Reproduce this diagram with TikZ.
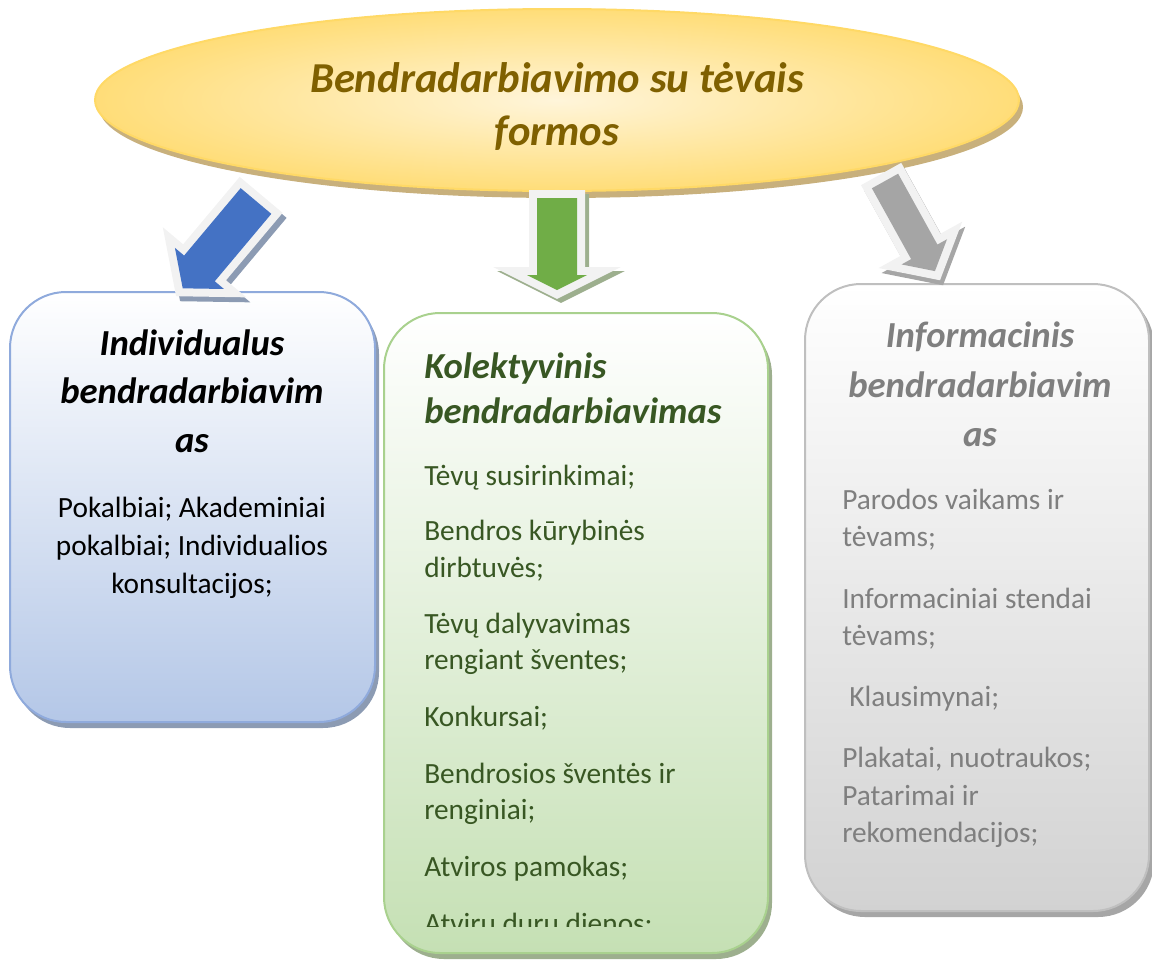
\documentclass[tikz,border=0pt]{standalone}
\usepackage{fontspec}
\setmainfont{Carlito}
\definecolor{ttl}{HTML}{7F6000}
\definecolor{ellin}{HTML}{FFF5DA}
\definecolor{ellout}{HTML}{FFDD78}
\definecolor{ellline}{HTML}{FFD966}
\definecolor{ellshad}{HTML}{C8B07C}
\definecolor{bluefill}{HTML}{B4C7E7}
\definecolor{blueline}{HTML}{8FAADC}
\definecolor{blueshad}{HTML}{8C9BB3}
\definecolor{greenfill}{HTML}{C5E0B4}
\definecolor{greenline}{HTML}{A9D18E}
\definecolor{greenshad}{HTML}{9DAF8E}
\definecolor{greentext}{HTML}{385723}
\definecolor{grayfill}{HTML}{D2D2D2}
\definecolor{grayline}{HTML}{BFBFBF}
\definecolor{grayshad}{HTML}{A6A6A6}
\definecolor{graytext}{HTML}{7F7F7F}
\definecolor{arrblue}{HTML}{4472C4}
\definecolor{arrgreen}{HTML}{70AD47}
\definecolor{arrgray}{HTML}{A5A5A5}
\definecolor{arrline}{HTML}{F2F2F2}
\newcommand{\blockarrow}[4]{(-#1,0) -- (#1,0) -- (#1,#3) -- (#2,#3) -- (0,{#3+#4}) -- (-#2,#3) -- (-#1,#3) -- cycle}
\begin{document}
\begin{tikzpicture}[x=0.75pt,y=-0.75pt,
  ttlfont/.style={font=\fontsize{32}{39}\selectfont\bfseries\itshape, text=ttl, inner sep=0, anchor=base},
  hd/.style={font=\fontsize{27.5}{33}\selectfont\bfseries\itshape, inner sep=0},
  bd/.style={font=\fontsize{22}{27}\selectfont, inner sep=0},
  boxshape/.style={rounded corners=42pt, line width=1.5pt},
  arrshadow/.style={line width=12pt, line join=miter},
  arrout/.style={draw=arrline, line width=12pt, line join=miter}]
\useasboundingbox (0,0) rectangle (1152,960);
% boxes
\fill[blueshad, boxshape] (14,298) rectangle (379,728);
\path[boxshape, draw=blueline, top color=white, bottom color=bluefill] (10,292) rectangle (375,722);
\fill[greenshad, boxshape] (388,319) rectangle (772,959);
\path[boxshape, draw=greenline, top color=white, bottom color=greenfill] (384,313) rectangle (768,953);
\fill[grayshad, boxshape] (809,290) rectangle (1154,917);
\path[boxshape, draw=grayline, top color=white, bottom color=grayfill] (805,284) rectangle (1149,911);
% ellipse
\fill[ellshad] (561,107) ellipse [x radius=462, y radius=91];
\path[draw=ellline, line width=1.5pt, shading=radial, inner color=ellin, outer color=ellout] (557,100) ellipse [x radius=462, y radius=91];
\node[ttlfont] (t1) at (557,92) {Bendradarbiavimo su tėvais};
\node[ttlfont] (t2) at (557,145) {formos};
% arrows
\begin{scope}[shift={(260,206)}, rotate=-40]
  \filldraw[blueshad, arrshadow] \blockarrow{20}{32}{88}{26};
\end{scope}
\begin{scope}[shift={(256,201)}, rotate=-40]
  \filldraw[arrout, fill=arrblue] \blockarrow{20}{32}{88}{26};
  \fill[arrblue] \blockarrow{20}{32}{88}{26};
\end{scope}
\begin{scope}[shift={(561,202)}]
  \filldraw[greenshad, arrshadow] \blockarrow{20}{30}{77}{15};
\end{scope}
\begin{scope}[shift={(557,198)}]
  \filldraw[arrout, fill=arrgreen] \blockarrow{20}{30}{77}{15};
  \fill[arrgreen] \blockarrow{20}{30}{77}{15};
\end{scope}
\begin{scope}[shift={(888,186)}, rotate=29]
  \filldraw[grayshad, arrshadow] \blockarrow{15}{26}{81}{22};
\end{scope}
\begin{scope}[shift={(885,181)}, rotate=29]
  \filldraw[arrout, fill=arrgray] \blockarrow{15}{26}{81}{22};
  \fill[arrgray] \blockarrow{15}{26}{81}{22};
\end{scope}
% box 1 text
\node[hd, anchor=base] (h1a) at (192,355) {Individualus};
\node[hd, anchor=base] (h1b) at (192,403) {bendradarbiavim};
\node[hd, anchor=base] (h1c) at (192,452) {as};
\node[bd, anchor=base] (b1a) at (192,517) {Pokalbiai; Akademiniai};
\node[bd, anchor=base] (b1b) at (192,555) {pokalbiai; Individualios};
\node[bd, anchor=base] (b1c) at (192,593) {konsultacijos;};
% box 2 text
\begin{scope}[text=greentext]
\node[hd, anchor=base west] (h2a) at (424,378) {Kolektyvinis};
\node[hd, anchor=base west] (h2b) at (424,423) {bendradarbiavimas};
\node[bd, anchor=base west] (b2a) at (424,485) {Tėvų susirinkimai;};
\node[bd, anchor=base west] (b2b) at (424,540) {Bendros kūrybinės};
\node[bd, anchor=base west] (b2c) at (424,577) {dirbtuvės;};
\node[bd, anchor=base west] (b2d) at (424,633) {Tėvų dalyvavimas};
\node[bd, anchor=base west] (b2e) at (424,669) {rengiant šventes;};
\node[bd, anchor=base west] (b2f) at (424,726) {Konkursai;};
\node[bd, anchor=base west] (b2g) at (424,783) {Bendrosios šventės ir};
\node[bd, anchor=base west] (b2h) at (424,819) {renginiai;};
\node[bd, anchor=base west] (b2i) at (424,876) {Atviros pamokas;};
\begin{scope}
  \clip (384,313) rectangle (768,926);
  \node[bd, anchor=base west] (b2j) at (424,933) {Atvirų durų dienos;};
\end{scope}
\end{scope}
% box 3 text
\begin{scope}[text=graytext]
\node[hd, anchor=base] (h3a) at (980,347) {Informacinis};
\node[hd, anchor=base] (h3b) at (980,397) {bendradarbiavim};
\node[hd, anchor=base] (h3c) at (980,446) {as};
\node[bd, anchor=base west] (b3a) at (842,509) {Parodos vaikams ir};
\node[bd, anchor=base west] (b3b) at (842,546) {tėvams;};
\node[bd, anchor=base west] (b3c) at (842,608) {Informaciniai stendai};
\node[bd, anchor=base west] (b3d) at (842,645) {tėvams;};
\node[bd, anchor=base west] (b3e) at (849,706) {Klausimynai;};
\node[bd, anchor=base west] (b3f) at (842,767) {Plakatai, nuotraukos;};
\node[bd, anchor=base west] (b3g) at (842,805) {Patarimai ir};
\node[bd, anchor=base west] (b3h) at (842,842) {rekomendacijos;};
\end{scope}
\end{tikzpicture}
\end{document}
